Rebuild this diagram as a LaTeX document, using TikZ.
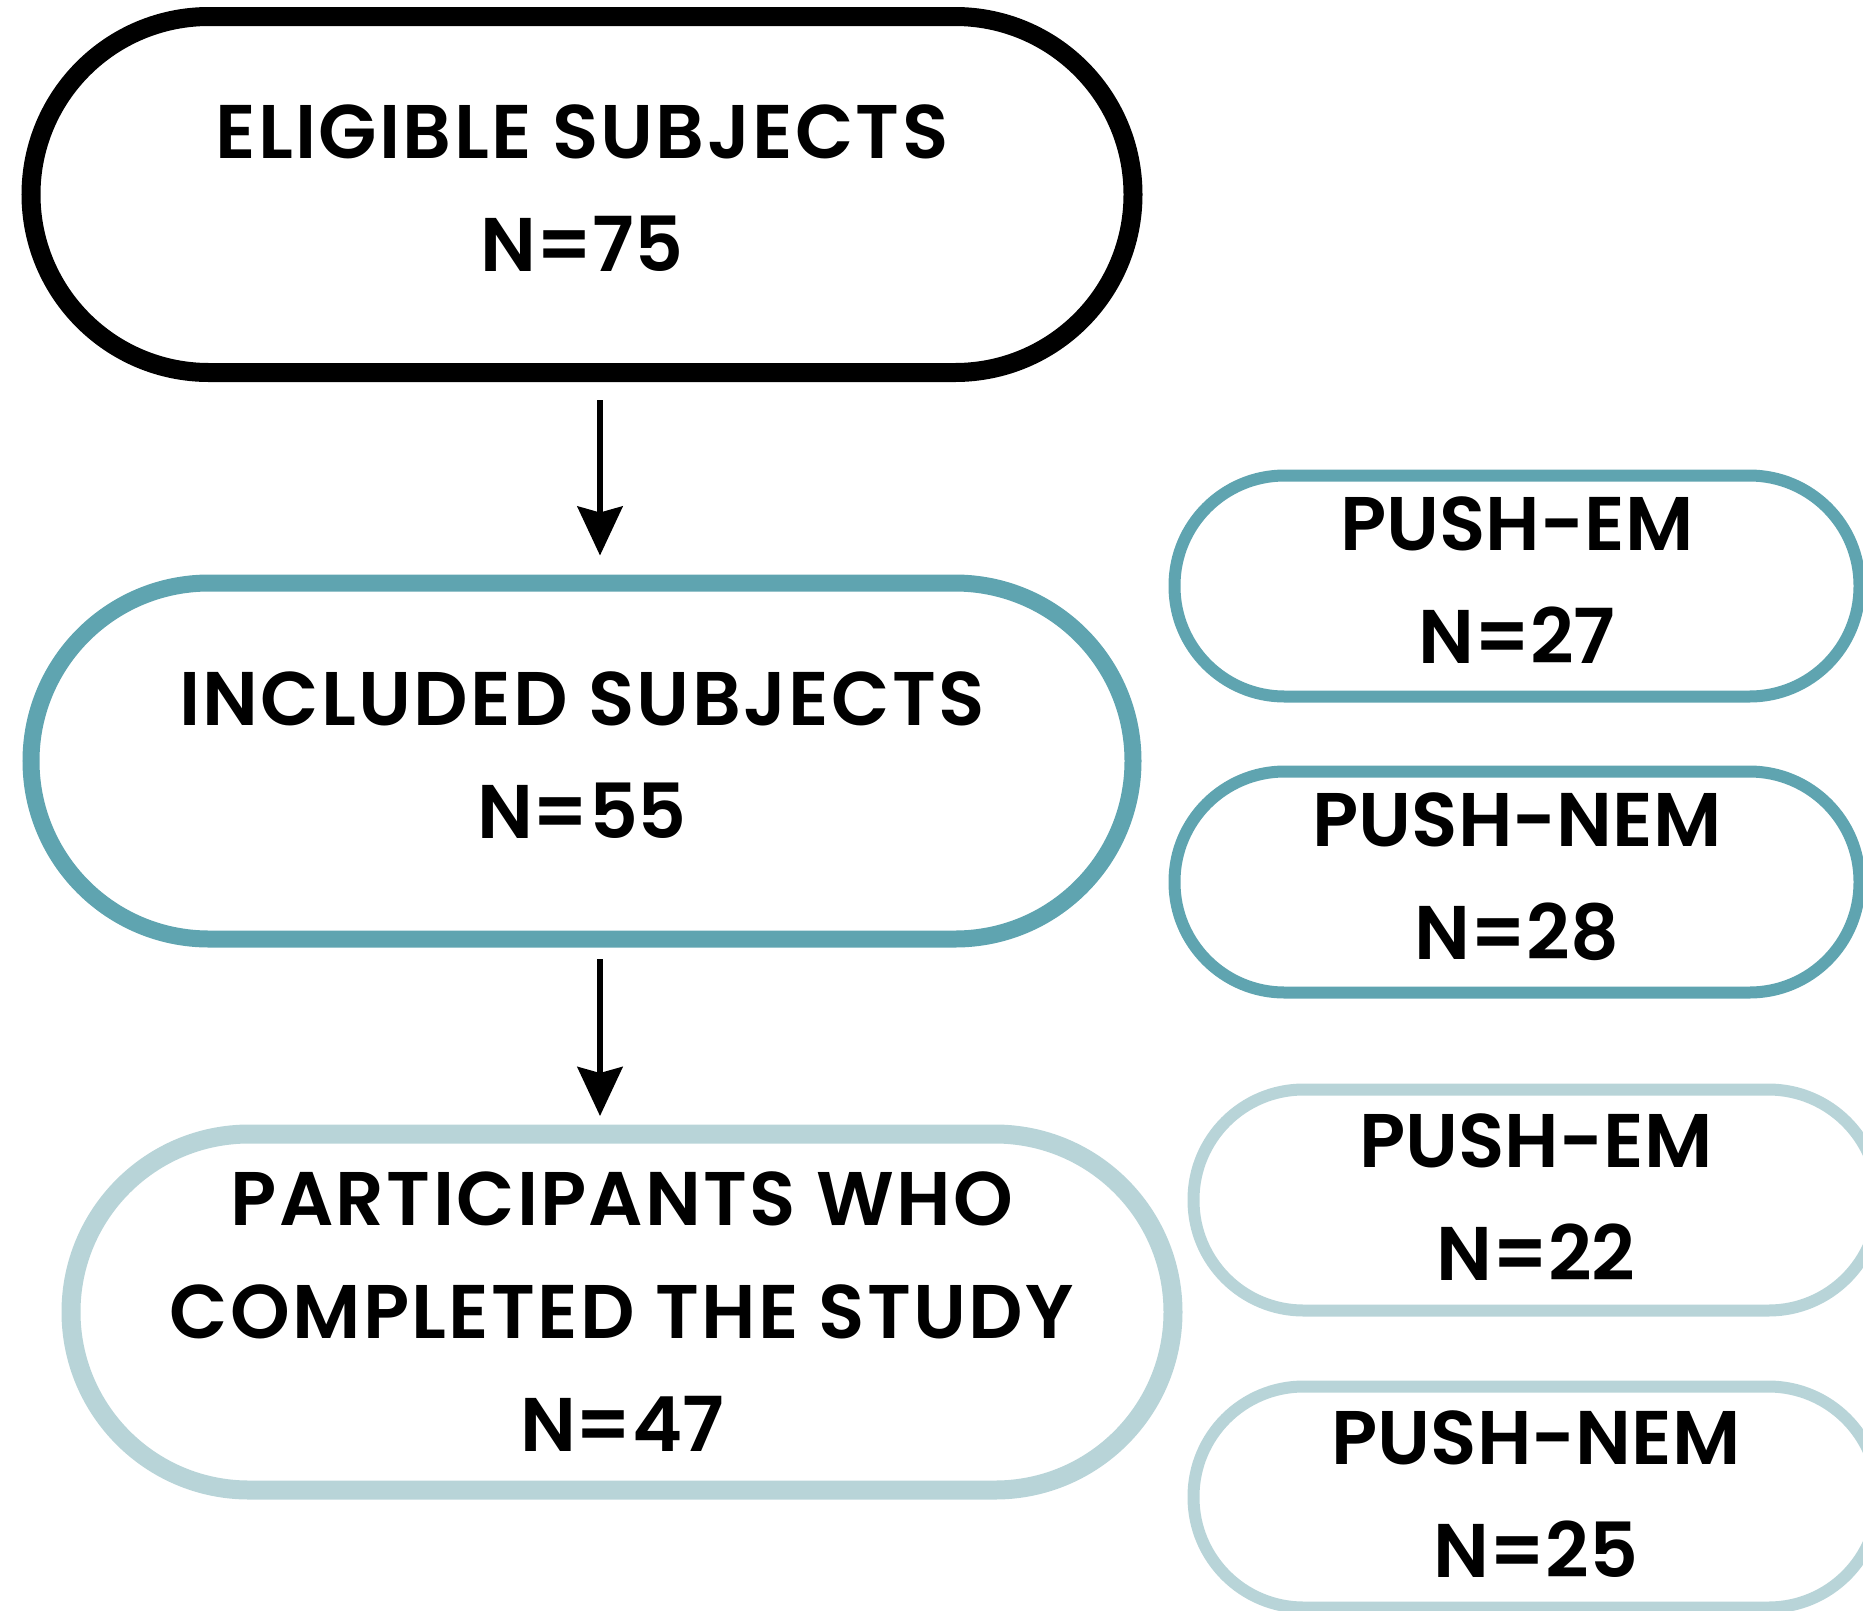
\documentclass[tikz,border=0pt]{standalone}
\usepackage{fontspec}
\setmainfont{Poppins}[BoldFont={Poppins SemiBold}, LetterSpace=3]
\newfontfamily\pushfont{Poppins}[BoldFont={Poppins SemiBold}]
\usetikzlibrary{arrows.meta}
\definecolor{teal1}{HTML}{5FA4B0}
\definecolor{teal2}{HTML}{B8D4D8}
\newcommand\liftup{\rule[-12pt]{0pt}{12pt}}
\tikzset{
  pill/.style={draw, fill=white, rectangle, inner sep=0pt, align=center,
    font=\fontsize{76}{113}\selectfont\bfseries},
  bigpill/.style={pill, minimum width=1102pt, minimum height=356pt, rounded corners=178pt},
  smallpill/.style={pill, minimum width=685pt, minimum height=221pt, rounded corners=110pt, line width=12pt,
    font=\fontsize{76}{113}\pushfont\bfseries},
  arr/.style={line width=6pt, -{Stealth[length=49pt,width=45pt,inset=6pt]}},
}
\begin{document}
\begin{tikzpicture}[x=1pt,y=-1pt]
\useasboundingbox (0,0) rectangle (1863,1610);
\clip (0,0) rectangle (1863,1610);
\node[bigpill, line width=19pt] (elig) at (582,194.5) {ELIGIBLE SUBJECTS\\{\pushfont\bfseries N=75}\liftup};
\node[bigpill, line width=17pt, draw=teal1] (incl) at (582,761) {INCLUDED SUBJECTS\\{\pushfont\bfseries N=55}\liftup};
\node[bigpill, line width=19pt, draw=teal2] (comp) at (622,1312) {PARTICIPANTS WHO\\COMPLETED THE STUDY\\{\pushfont\bfseries N=47}};
\node[smallpill, draw=teal1] (em1) at (1517,586) {PUSH-EM\\N=27\liftup};
\node[smallpill, draw=teal1] (nem1) at (1517,882) {PUSH-NEM\\N=28\liftup};
\node[smallpill, draw=teal2] (em2) at (1536,1200) {PUSH-EM\\N=22\rule[-5pt]{0pt}{5pt}};
\node[smallpill, draw=teal2] (nem2) at (1536,1497) {PUSH-NEM\\N=25\rule[-5pt]{0pt}{5pt}};
\draw[arr] ([xshift=18pt,yshift=-18pt]elig.south) -- ([xshift=18pt,yshift=19pt]incl.north);
\draw[arr] ([xshift=18pt,yshift=-11.5pt]incl.south) -- ([xshift=-22pt,yshift=8.5pt]comp.north);
\end{tikzpicture}
\end{document}
